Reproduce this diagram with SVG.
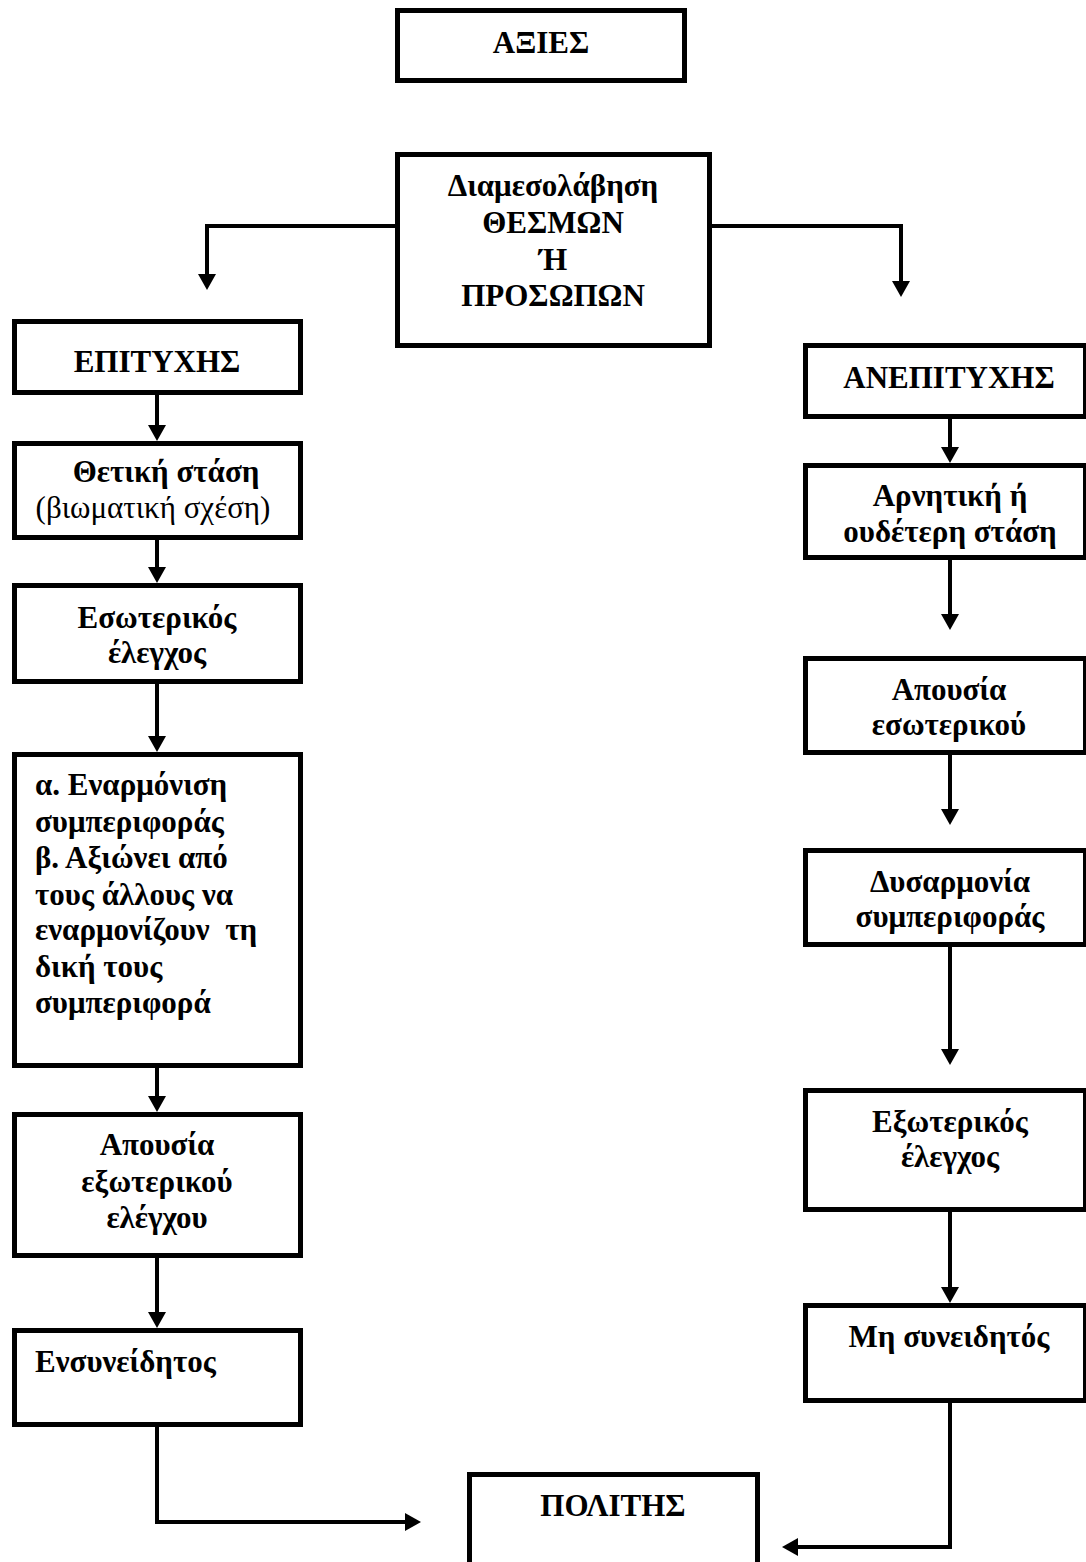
<svg xmlns="http://www.w3.org/2000/svg" width="1086" height="1562" viewBox="0 0 1086 1562">
<style>
.box{fill:#fff;stroke:#000;stroke-width:5}
.t{font-family:"Liberation Serif","Times New Roman",serif;font-size:31px;font-weight:bold;fill:#000;text-anchor:middle}
.l{text-anchor:start}
.n{font-weight:normal}
.c{fill:none;stroke:#000;stroke-width:4;stroke-linejoin:miter}
</style>
<defs>
<marker id="ah" markerUnits="userSpaceOnUse" markerWidth="16" markerHeight="18" viewBox="0 0 16 18" refX="0" refY="9" orient="auto">
<path d="M0,0 L16,9 L0,18 z" fill="#000"/>
</marker>
</defs>
<rect width="1086" height="1562" fill="#fff"/>
<g id="connectors">
<path class="c" marker-end="url(#ah)" d="M397,226 H207 V274"/>
<path class="c" marker-end="url(#ah)" d="M710,226 H901 V281"/>
<path class="c" marker-end="url(#ah)" d="M157,395 V425"/>
<path class="c" marker-end="url(#ah)" d="M157,540 V567"/>
<path class="c" marker-end="url(#ah)" d="M157,684 V736"/>
<path class="c" marker-end="url(#ah)" d="M157,1068 V1096"/>
<path class="c" marker-end="url(#ah)" d="M157,1258 V1312"/>
<path class="c" marker-end="url(#ah)" d="M157,1427 V1522 H405"/>
<path class="c" marker-end="url(#ah)" d="M950,419 V447"/>
<path class="c" marker-end="url(#ah)" d="M950,560 V614"/>
<path class="c" marker-end="url(#ah)" d="M950,755 V809"/>
<path class="c" marker-end="url(#ah)" d="M950,947 V1049"/>
<path class="c" marker-end="url(#ah)" d="M950,1212 V1287"/>
<path class="c" marker-end="url(#ah)" d="M950,1403 V1547 H798"/>
</g>
<g id="axies">
<rect class="box" x="397.5" y="10.5" width="287" height="70"/>
<text class="t" x="541" y="53">ΑΞΙΕΣ</text>
</g>
<g id="diamesolavisi">
<rect class="box" x="397.5" y="154.5" width="312" height="191"/>
<text class="t" x="553" y="196">Διαμεσολάβηση</text>
<text class="t" x="553" y="233">ΘΕΣΜΩΝ</text>
<text class="t" x="553" y="270">Ή</text>
<text class="t" x="553" y="306">ΠΡΟΣΩΠΩΝ</text>
</g>
<g id="epitychis">
<rect class="box" x="14.5" y="321.5" width="286" height="71"/>
<text class="t" x="157" y="372">ΕΠΙΤΥΧΗΣ</text>
</g>
<g id="thetiki">
<rect class="box" x="14.5" y="443.5" width="286" height="94"/>
<text class="t" x="166" y="482">Θετική στάση</text>
<text class="t n" x="153" y="518">(βιωματική σχέση)</text>
</g>
<g id="esoterikos">
<rect class="box" x="14.5" y="585.5" width="286" height="96"/>
<text class="t" x="157" y="628">Εσωτερικός</text>
<text class="t" x="157" y="663">έλεγχος</text>
</g>
<g id="enarmonisi">
<rect class="box" x="14.5" y="754.5" width="286" height="311"/>
<text class="t l" x="35" y="795">α. Εναρμόνιση</text>
<text class="t l" x="35" y="832">συμπεριφοράς</text>
<text class="t l" x="35" y="868">β. Αξιώνει από</text>
<text class="t l" x="35" y="905">τους άλλους να</text>
<text class="t l" x="35" y="940" style="white-space:pre" xml:space="preserve">εναρμονίζουν  τη</text>
<text class="t l" x="35" y="977">δική τους</text>
<text class="t l" x="35" y="1013">συμπεριφορά</text>
</g>
<g id="apousia-exoterikou">
<rect class="box" x="14.5" y="1114.5" width="286" height="141"/>
<text class="t" x="157" y="1155">Απουσία</text>
<text class="t" x="157" y="1192">εξωτερικού</text>
<text class="t" x="157" y="1228">ελέγχου</text>
</g>
<g id="ensyneidhtos">
<rect class="box" x="14.5" y="1330.5" width="286" height="94"/>
<text class="t l" x="35" y="1372">Ενσυνείδητος</text>
</g>
<g id="anepitychis">
<rect class="box" x="805.5" y="345.5" width="280" height="71"/>
<text class="t" x="949" y="388">ΑΝΕΠΙΤΥΧΗΣ</text>
</g>
<g id="arnitiki">
<rect class="box" x="805.5" y="465.5" width="280" height="92"/>
<text class="t" x="950" y="506">Αρνητική ή</text>
<text class="t" x="950" y="542">ουδέτερη στάση</text>
</g>
<g id="apousia-esoterikou">
<rect class="box" x="805.5" y="658.5" width="280" height="94"/>
<text class="t" x="949" y="700">Απουσία</text>
<text class="t" x="949" y="735">εσωτερικού</text>
</g>
<g id="dysarmonia">
<rect class="box" x="805.5" y="850.5" width="280" height="94"/>
<text class="t" x="950" y="892">Δυσαρμονία</text>
<text class="t" x="950" y="927">συμπεριφοράς</text>
</g>
<g id="exoterikos">
<rect class="box" x="805.5" y="1090.5" width="280" height="119"/>
<text class="t" x="950" y="1132">Εξωτερικός</text>
<text class="t" x="950" y="1167">έλεγχος</text>
</g>
<g id="mi-syneidhtos">
<rect class="box" x="805.5" y="1305.5" width="280" height="95"/>
<text class="t" x="949" y="1347">Μη συνειδητός</text>
</g>
<g id="politis">
<rect class="box" x="469.5" y="1474.5" width="288" height="100"/>
<text class="t" x="613" y="1516">ΠΟΛΙΤΗΣ</text>
</g>
</svg>
